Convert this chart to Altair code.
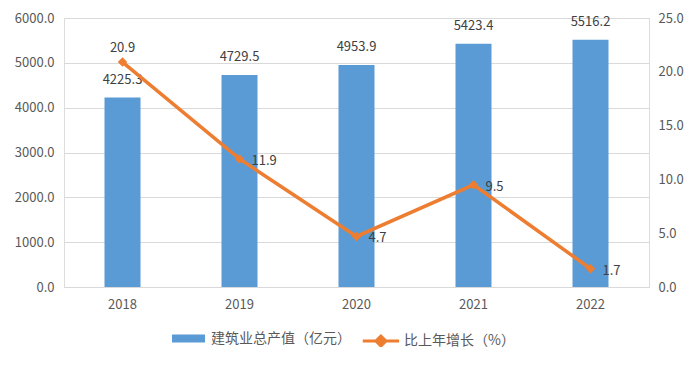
import altair as alt
import pandas as pd

years = ["2018", "2019", "2020", "2021", "2022"]
output = [4225.3, 4729.5, 4953.9, 5423.4, 5516.2]
growth = [20.9, 11.9, 4.7, 9.5, 1.7]

bar_name = "建筑业总产值（亿元）"
line_name = "比上年增长（%）"

df = pd.DataFrame({"year": years, "output": output, "growth": growth})

FONT = "Noto Sans CJK SC"
BLUE = "#5B9BD5"
ORANGE = "#ED7D31"
TXT = "#404040"
AX = "#595959"

base = alt.Chart(df)
x = alt.X("year:N", title=None,
          scale=alt.Scale(paddingInner=0, paddingOuter=0),
          axis=alt.Axis(labelAngle=0, ticks=False, domainColor="#D9D9D9",
                        labelFontSize=13, labelColor=AX, labelFont=FONT,
                        labelPadding=11))

bars = base.mark_bar(size=36).encode(
    x=x,
    y=alt.Y("output:Q", title=None,
            scale=alt.Scale(domain=[0, 6000]),
            axis=alt.Axis(values=[0, 1000, 2000, 3000, 4000, 5000, 6000], format=".1f",
                          domain=False, ticks=False, gridColor="#D9D9D9",
                          labelFontSize=13, labelColor=AX, labelFont=FONT,
                          labelPadding=10)),
    fill=alt.Fill("name:N", scale=alt.Scale(domain=[bar_name], range=[BLUE]),
                  legend=alt.Legend(title=None, orient="none", legendX=116, legendY=312,
                                    symbolType="M-2,-0.5H2V0.5H-2Z", symbolSize=272,
                                    symbolStrokeWidth=0, labelOffset=14, labelLimit=400,
                                    labelFontSize=14, labelColor=AX, labelFont=FONT)),
).transform_calculate(name=f"'{bar_name}'")

bar_text = base.mark_text(dy=-18, baseline="middle", fontSize=13, color=TXT, font=FONT).encode(
    x=x, y="output:Q", text=alt.Text("output:Q", format=".1f"))

bar_layer = alt.layer(bars, bar_text)

yr = alt.Y("growth:Q", title=None, scale=alt.Scale(domain=[0, 25]),
           axis=alt.Axis(orient="right", values=[0, 5, 10, 15, 20, 25], format=".1f",
                         domain=False, ticks=False, grid=False,
                         labelFontSize=13, labelColor=AX, labelFont=FONT,
                         labelPadding=9))

line = base.mark_line(strokeWidth=3.5).encode(
    x=x, y=yr,
    stroke=alt.Stroke("lname:N", scale=alt.Scale(domain=[line_name], range=[ORANGE]),
                      legend=alt.Legend(title=None, orient="none", legendX=315, legendY=312,
                                        symbolType="M-3,0H1M-1,-0.55L-0.45,0L-1,0.55L-1.55,0Z",
                                        symbolSize=330, symbolStrokeWidth=3,
                                        symbolFillColor=ORANGE, labelOffset=3, labelLimit=400,
                                        labelFontSize=14, labelColor=AX, labelFont=FONT)),
).transform_calculate(lname=f"'{line_name}'")

points = base.mark_point(shape="diamond", size=90, filled=True, color=ORANGE, opacity=1).encode(
    x=x, y=yr)

first_text = base.mark_text(dy=-14, baseline="middle", fontSize=13, color=TXT, font=FONT).encode(
    x=x, y=yr, text=alt.Text("growth:Q", format=".1f")).transform_filter("datum.year == '2018'")

other_text = base.mark_text(dx=12, dy=2, align="left", baseline="middle", fontSize=13,
                            color=TXT, font=FONT).encode(
    x=x, y=yr, text=alt.Text("growth:Q", format=".1f")).transform_filter("datum.year != '2018'")

line_layer = alt.layer(line, points, first_text, other_text)

chart = alt.layer(bar_layer, line_layer).resolve_scale(y="independent").properties(
    width=585, height=269,
    autosize=alt.AutoSizeParams(type="none"),
    padding={"left": 56, "top": 10, "right": 35, "bottom": 60},
).configure_view(stroke=None).configure(background="white")

chart.save("out.html", embed_options={"renderer": "svg", "actions": False})
